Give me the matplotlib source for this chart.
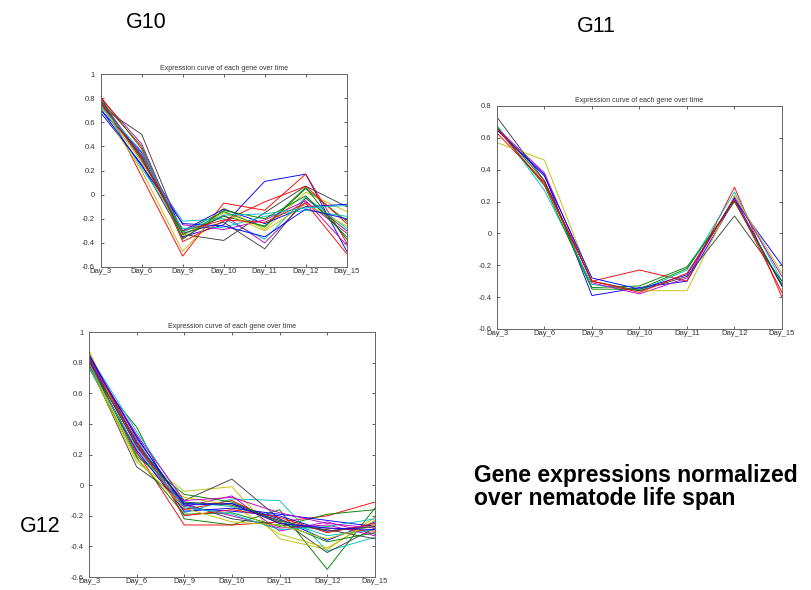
import matplotlib
matplotlib.use("Agg")
import matplotlib.pyplot as plt

plt.rcParams['font.family'] = ['Liberation Sans', 'DejaVu Sans']

days = ["Day_3", "Day_6", "Day_9", "Day_10", "Day_11", "Day_12", "Day_15"]

# MATLAB-like default colour cycle
mat_colors = ["#0000ff", "#008000", "#ff0000", "#00bfbf", "#bf00bf", "#bfbf00", "#404040"]

# G10 profiles (one row per gene)
g10 = [
    [0.68, 0.25, -0.35, -0.25, 0.11, 0.17, -0.47],
    [0.76, 0.32, -0.31, -0.14, -0.27, 0.05, -0.22],
    [0.82, 0.15, -0.51, -0.07, -0.13, 0.17, -0.40],
    [0.78, 0.28, -0.22, -0.20, -0.37, -0.02, -0.28],
    [0.80, 0.42, -0.36, -0.17, -0.40, -0.06, -0.32],
    [0.72, 0.20, -0.47, -0.11, -0.29, 0.02, -0.14],
    [0.73, 0.50, -0.33, -0.38, -0.15, 0.07, -0.10],
    [0.70, 0.35, -0.30, -0.12, -0.24, -0.10, -0.08],
    [0.79, 0.30, -0.33, -0.18, -0.26, 0.06, -0.37],
    [0.81, 0.38, -0.39, -0.22, -0.06, 0.07, -0.24],
    [0.75, 0.22, -0.28, -0.27, -0.18, -0.13, -0.18],
    [0.77, 0.33, -0.25, -0.29, -0.21, -0.05, -0.42],
    [0.74, 0.27, -0.34, -0.15, -0.30, -0.08, -0.26],
    [0.76, 0.31, -0.32, -0.23, -0.45, -0.03, -0.30],
    [0.71, 0.24, -0.24, -0.26, -0.35, -0.12, -0.20],
    [0.78, 0.40, -0.37, -0.13, -0.20, -0.01, -0.35],
    [0.76, 0.29, -0.30, -0.21, -0.23, -0.07, -0.49],
    [0.73, 0.36, -0.31, -0.17, -0.16, -0.11, -0.09],
]

# G11 profiles
g11 = [
    [0.65, 0.37, -0.39, -0.34, -0.30, 0.21, -0.20],
    [0.67, 0.33, -0.34, -0.33, -0.21, 0.20, -0.33],
    [0.63, 0.32, -0.30, -0.23, -0.30, 0.29, -0.40],
    [0.68, 0.27, -0.32, -0.36, -0.23, 0.26, -0.30],
    [0.66, 0.38, -0.31, -0.38, -0.28, 0.23, -0.27],
    [0.57, 0.46, -0.30, -0.36, -0.36, 0.24, -0.25],
    [0.73, 0.33, -0.30, -0.36, -0.27, 0.11, -0.30],
    [0.65, 0.36, -0.28, -0.35, -0.26, 0.22, -0.33],
    [0.66, 0.30, -0.35, -0.35, -0.22, 0.20, -0.32],
    [0.66, 0.31, -0.30, -0.37, -0.25, 0.21, -0.37],
]

# G12 profiles
g12 = [
    [0.82, 0.28, -0.12, -0.12, -0.22, -0.36, -0.24],
    [0.76, 0.38, -0.22, -0.26, -0.16, -0.55, -0.15],
    [0.80, 0.22, -0.26, -0.26, -0.24, -0.20, -0.11],
    [0.78, 0.30, -0.18, -0.09, -0.10, -0.43, -0.34],
    [0.84, 0.25, -0.14, -0.07, -0.30, -0.24, -0.32],
    [0.88, 0.20, -0.04, -0.01, -0.35, -0.42, -0.21],
    [0.79, 0.12, -0.10, 0.04, -0.22, -0.44, -0.28],
    [0.83, 0.32, -0.15, -0.17, -0.20, -0.30, -0.26],
    [0.77, 0.18, -0.19, -0.18, -0.27, -0.19, -0.16],
    [0.81, 0.26, -0.16, -0.10, -0.25, -0.28, -0.30],
    [0.85, 0.35, -0.11, -0.14, -0.23, -0.33, -0.29],
    [0.80, 0.21, -0.13, -0.20, -0.28, -0.26, -0.33],
    [0.78, 0.15, -0.08, -0.13, -0.32, -0.41, -0.23],
    [0.86, 0.27, -0.12, -0.22, -0.26, -0.29, -0.35],
    [0.79, 0.23, -0.17, -0.15, -0.19, -0.23, -0.27],
    [0.82, 0.19, -0.06, -0.11, -0.24, -0.37, -0.31],
    [0.84, 0.29, -0.20, -0.16, -0.21, -0.31, -0.25],
    [0.77, 0.24, -0.14, -0.19, -0.29, -0.27, -0.22],
    [0.83, 0.33, -0.10, -0.08, -0.18, -0.25, -0.28],
    [0.80, 0.17, -0.15, -0.24, -0.26, -0.35, -0.26],
    [0.81, 0.26, -0.11, -0.13, -0.23, -0.30, -0.27],
    [0.85, 0.31, -0.13, -0.12, -0.25, -0.28, -0.29],
]


def draw_panel(ax, profiles, ylim, yticks):
    for i, prof in enumerate(profiles):
        ax.plot(range(len(days)), prof, color=mat_colors[i % len(mat_colors)], lw=0.65)
    ax.set_xlim(0, len(days) - 1)
    ax.set_ylim(*ylim)
    ax.set_xticks(range(len(days)))
    ax.set_xticklabels(days)
    ax.set_yticks(yticks)
    ax.set_yticklabels([f"{t:g}" for t in yticks])
    ax.tick_params(direction="in", length=2.5, width=0.6, labelsize=5.5,
                   top=True, right=True, colors="#444444", labelcolor="#333333")
    ax.tick_params(axis="x", pad=1)
    ax.tick_params(axis="y", pad=4)
    for s in ax.spines.values():
        s.set_color("#666666")
        s.set_linewidth(0.7)
    ax.set_title("Expression curve of each gene over time", fontsize=5, pad=3, color="#333333")


fig = plt.figure(figsize=(8.12, 5.9), dpi=100)

ax10 = fig.add_axes([0.124, 0.5475, 0.303, 0.327])
draw_panel(ax10, g10, (-0.6, 1.0), [-0.6, -0.4, -0.2, 0, 0.2, 0.4, 0.6, 0.8, 1])

ax11 = fig.add_axes([0.612, 0.4424, 0.351, 0.378])
draw_panel(ax11, g11, (-0.6, 0.8), [-0.6, -0.4, -0.2, 0, 0.2, 0.4, 0.6, 0.8])

ax12 = fig.add_axes([0.1096, 0.022, 0.352, 0.415])
draw_panel(ax12, g12, (-0.6, 1.0), [-0.6, -0.4, -0.2, 0, 0.2, 0.4, 0.6, 0.8, 1])

fig.text(146 / 812, 1 - 22.5 / 590, "G10", fontsize=15.5, ha="center", va="center")
fig.text(596 / 812, 1 - 27 / 590, "G11", fontsize=15.5, ha="center", va="center")
fig.text(40 / 812, 1 - 527 / 590, "G12", fontsize=15.5, ha="center", va="center")
fig.text(474 / 812, 1 - 487 / 590, "Gene expressions normalized\nover nematode life span",
         fontsize=16.5, fontweight="bold", ha="left", va="center", linespacing=1.05)

fig.savefig("out.png", dpi=100)
